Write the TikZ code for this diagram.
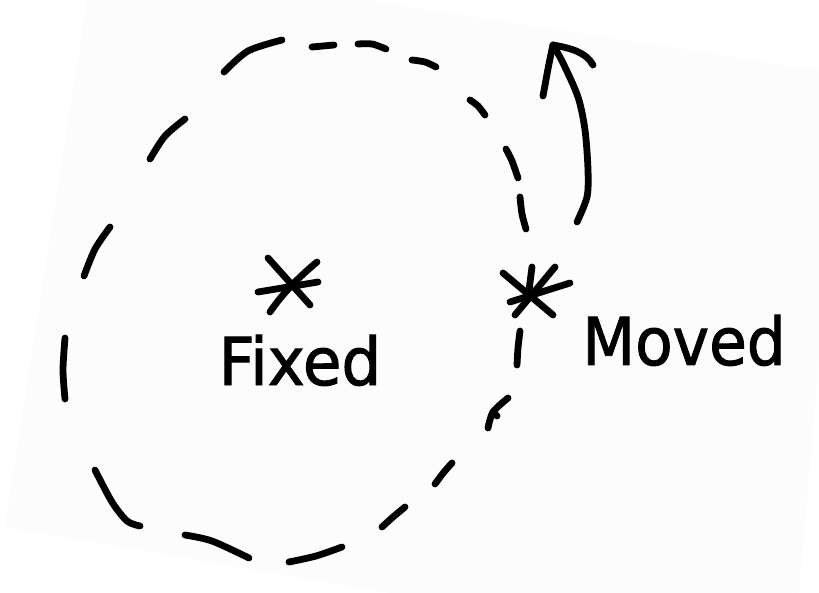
\documentclass[tikz,border=0pt]{standalone}
\usepackage{fontspec}
\setmainfont[FakeBold=1.5]{DejaVu Sans}
\definecolor{paper}{RGB}{252,252,252}
\begin{document}
\begin{tikzpicture}[x=1pt,y=-1pt,
  ink/.style={line width=6.8pt,line cap=round,line join=round,black},
  word/.style={font=\fontsize{66}{70}\selectfont,inner sep=0pt,anchor=base}]
\useasboundingbox (0,0) rectangle (819,593);
\begin{scope}
  \clip (0,0) rectangle (819,593);
  \fill[white] (0,0) rectangle (819,593);
  \fill[paper] (94,-42) -- (843,74) -- (793,662) -- (5,527) -- cycle;
\end{scope}

% dashed hand-drawn loop
\draw[ink] plot[smooth] coordinates {(224,72) (248,51) (282,40)};
\draw[ink] (312,47) -- (334,45);
\draw[ink] plot[smooth] coordinates {(358,44) (372,44) (386,49)};
\draw[ink] plot[smooth] coordinates {(412,60) (425,62) (436,67)};
\draw[ink] plot[smooth] coordinates {(470,100) (478,106) (485,115)};
\draw[ink] plot[smooth] coordinates {(506,149) (512,161) (518,178)};
\draw[ink] plot[smooth] coordinates {(520,197) (522,214) (526,229)};
\draw[ink] plot[smooth] coordinates {(520,331) (518,348) (517,365)};
\draw[ink] plot[smooth] coordinates {(508,398) (493,412) (488,428)};
\draw[ink] (493,412) -- (497,416);
\draw[ink] plot[smooth] coordinates {(452,463) (444,472) (435,484)};
\draw[ink] plot[smooth] coordinates {(405,507) (393,517) (382,527)};
\draw[ink] plot[smooth] coordinates {(342,547) (316,556) (289,562)};
\draw[ink] plot[smooth] coordinates {(185,535) (212,541) (249,558)};
\draw[ink] plot[smooth] coordinates {(95,470) (112,502) (127,521) (140,526)};
\draw[ink] plot[smooth] coordinates {(65,399) (63,370) (65,338)};
\draw[ink] plot[smooth] coordinates {(84,276) (95,249) (110,227)};
\draw[ink] plot[smooth] coordinates {(150,159) (165,136) (185,119)};

% curved arrow
\coordinate (tip) at (553,45);
\draw[ink] plot[smooth] coordinates {(577,222) (587,197) (588,170) (585,130) (578,97) (563,63) (tip)};
\draw[ink] (tip) .. controls (549,62) and (546,80) .. (543,96);
\draw[ink] (tip) .. controls (570,48) and (586,52) .. (593,65);

% fixed asterisk
\coordinate (fixedstar) at (288,286);
\draw[ink] (268,258) -- (310,305);
\draw[ink] (317,262) .. controls (300,276) and (282,294) .. (270,312);
\draw[ink] (258,292) -- (318,282);

% moved asterisk
\coordinate (movedstar) at (530,293);
\draw[ink] (503,273) -- (553,315);
\draw[ink] (555,267) -- (515,315);
\draw[ink] (510,302) -- (570,283);
\draw[ink] (532,267) -- (528,298);

% labels
\node[word,xscale=0.95] (fixed) at (300,385) {Fixed};
\node[word,xscale=0.93] (moved) at (684,365) {Moved};
\end{tikzpicture}
\end{document}
